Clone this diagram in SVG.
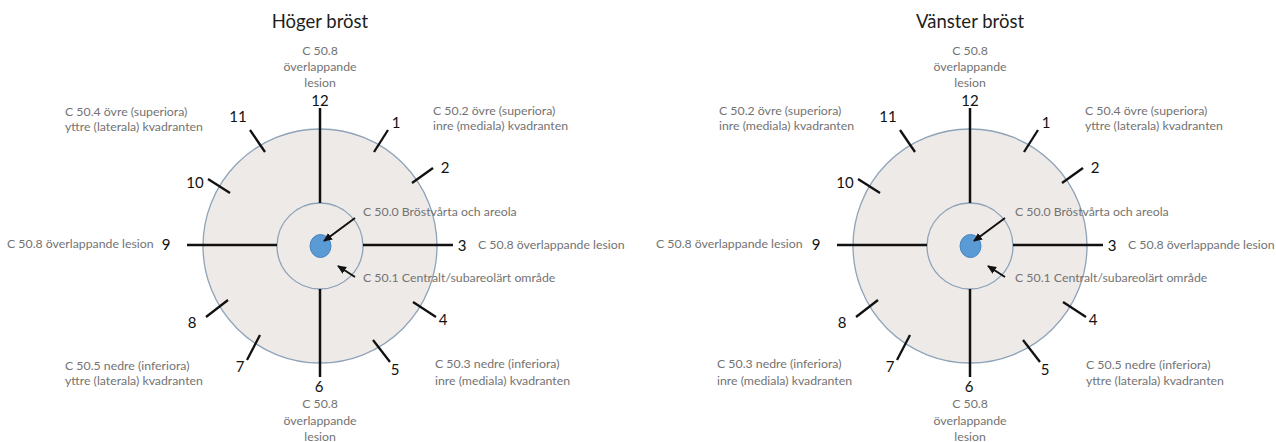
<svg xmlns="http://www.w3.org/2000/svg" width="1276" height="442" viewBox="0 0 1276 442">
<style>
.bg{fill:#ffffff}
.outer{fill:#eeeae7;stroke:#8fa3b8;stroke-width:1.3}
.inner{fill:#eeeae7;stroke:#8fa3b8;stroke-width:1.3}
.nip{fill:#5b9bd5;stroke:#4a86c0;stroke-width:1}
.spoke{stroke:#111111;stroke-width:2.5;fill:none;stroke-linecap:butt}
.tick{stroke:#111111;stroke-width:2.3;fill:none}
.arr{stroke:#111111;stroke-width:2;fill:none;marker-end:url(#ah)}
.title{font-family:Lato,"Liberation Sans",sans-serif;font-size:18.5px;fill:#1e1e1e;text-anchor:middle}
.num{font-family:Lato,"Liberation Sans",sans-serif;font-size:15px;fill:#111111;text-anchor:middle}
.lbl{font-family:Lato,"Liberation Sans",sans-serif;font-size:12.3px;fill:#737373}
.mid{text-anchor:middle}
</style>
<defs>
<marker id="ah" markerUnits="userSpaceOnUse" markerWidth="10" markerHeight="10" refX="8" refY="4" orient="auto">
<path d="M0,0 L9,4 L0,8 z" fill="#111111"/>
</marker>
</defs>
<rect class="bg" x="0" y="0" width="1276" height="442"/>

<!-- ===== Höger bröst ===== -->
<g id="hoger">
  <g id="h-title"><text class="title" x="320" y="28">Höger bröst</text></g>
  <g id="h-outer"><circle class="outer" cx="320" cy="246" r="117"/></g>
  <g id="h-inner"><circle class="inner" cx="320" cy="246" r="43"/></g>
  <g id="h-nipple"><ellipse class="nip" cx="320.5" cy="246" rx="10.5" ry="11.5"/></g>
  <g id="h-connectors">
    <line class="spoke" x1="320" y1="108" x2="320" y2="203"/>
    <line class="spoke" x1="320" y1="289" x2="320" y2="377"/>
    <line class="spoke" x1="187" y1="245" x2="277" y2="245"/>
    <line class="spoke" x1="363" y1="245" x2="453" y2="245"/>
    <line class="tick" x1="374" y1="152" x2="388" y2="130"/>
    <line class="tick" x1="412" y1="183" x2="433" y2="168"/>
    <line class="tick" x1="413" y1="302" x2="436" y2="317"/>
    <line class="tick" x1="373" y1="340" x2="390" y2="362"/>
    <line class="tick" x1="260" y1="335" x2="247" y2="360"/>
    <line class="tick" x1="228" y1="300" x2="206" y2="317"/>
    <line class="tick" x1="230" y1="193" x2="208" y2="179"/>
    <line class="tick" x1="265" y1="152" x2="250" y2="130"/>
    <line class="arr" x1="355" y1="218" x2="324" y2="241"/>
    <line class="arr" x1="355" y1="277" x2="338" y2="266"/>
  </g>
  <g id="h-numbers">
    <text class="num" x="320" y="106">12</text>
    <text class="num" x="396" y="128">1</text>
    <text class="num" x="445" y="173">2</text>
    <text class="num" x="462" y="251">3</text>
    <text class="num" x="443" y="325">4</text>
    <text class="num" x="395" y="375">5</text>
    <text class="num" x="319" y="392">6</text>
    <text class="num" x="240" y="372">7</text>
    <text class="num" x="192" y="328">8</text>
    <text class="num" x="166" y="250">9</text>
    <text class="num" x="195" y="188">10</text>
    <text class="num" x="238" y="122">11</text>
  </g>
  <g id="h-lbl-top"><text class="lbl mid" x="320" y="54.5">C 50.8</text><text class="lbl mid" x="320" y="70.5">överlappande</text><text class="lbl mid" x="320" y="87">lesion</text></g>
  <g id="h-lbl-bottom"><text class="lbl mid" x="320" y="407.5">C 50.8</text><text class="lbl mid" x="320" y="425">överlappande</text><text class="lbl mid" x="320" y="441">lesion</text></g>
  <g id="h-lbl-ur"><text class="lbl" x="433" y="114.5">C 50.2 övre (superiora)</text><text class="lbl" x="433" y="129.5">inre (mediala) kvadranten</text></g>
  <g id="h-lbl-ul"><text class="lbl" x="65" y="116">C 50.4 övre (superiora)</text><text class="lbl" x="65" y="131">yttre (laterala) kvadranten</text></g>
  <g id="h-lbl-9"><text class="lbl" x="7" y="247.5">C 50.8 överlappande lesion</text></g>
  <g id="h-lbl-3"><text class="lbl" x="478" y="249">C 50.8 överlappande lesion</text></g>
  <g id="h-lbl-c500"><text class="lbl" x="363" y="215.5">C 50.0 Bröstvårta och areola</text></g>
  <g id="h-lbl-c501"><text class="lbl" x="363" y="282">C 50.1 Centralt/subareolärt område</text></g>
  <g id="h-lbl-lr"><text class="lbl" x="435" y="368">C 50.3 nedre (inferiora)</text><text class="lbl" x="435" y="385">inre (mediala) kvadranten</text></g>
  <g id="h-lbl-ll"><text class="lbl" x="65" y="370">C 50.5 nedre (inferiora)</text><text class="lbl" x="65" y="385">yttre (laterala) kvadranten</text></g>
</g>

<!-- ===== Vänster bröst ===== -->
<g id="vanster">
  <g id="v-title"><text class="title" x="970" y="28">Vänster bröst</text></g>
  <g id="v-outer"><circle class="outer" cx="970" cy="246" r="117"/></g>
  <g id="v-inner"><circle class="inner" cx="970" cy="246" r="43"/></g>
  <g id="v-nipple"><ellipse class="nip" cx="970.5" cy="246" rx="10.5" ry="11.5"/></g>
  <g id="v-connectors" transform="translate(650,0)">
    <line class="spoke" x1="320" y1="108" x2="320" y2="203"/>
    <line class="spoke" x1="320" y1="289" x2="320" y2="377"/>
    <line class="spoke" x1="187" y1="245" x2="277" y2="245"/>
    <line class="spoke" x1="363" y1="245" x2="453" y2="245"/>
    <line class="tick" x1="374" y1="152" x2="388" y2="130"/>
    <line class="tick" x1="412" y1="183" x2="433" y2="168"/>
    <line class="tick" x1="413" y1="302" x2="436" y2="317"/>
    <line class="tick" x1="373" y1="340" x2="390" y2="362"/>
    <line class="tick" x1="260" y1="335" x2="247" y2="360"/>
    <line class="tick" x1="228" y1="300" x2="206" y2="317"/>
    <line class="tick" x1="230" y1="193" x2="208" y2="179"/>
    <line class="tick" x1="265" y1="152" x2="250" y2="130"/>
    <line class="arr" x1="355" y1="218" x2="324" y2="241"/>
    <line class="arr" x1="355" y1="277" x2="338" y2="266"/>
  </g>
  <g id="v-numbers" transform="translate(650,0)">
    <text class="num" x="320" y="106">12</text>
    <text class="num" x="396" y="128">1</text>
    <text class="num" x="445" y="173">2</text>
    <text class="num" x="462" y="251">3</text>
    <text class="num" x="443" y="325">4</text>
    <text class="num" x="395" y="375">5</text>
    <text class="num" x="319" y="392">6</text>
    <text class="num" x="240" y="372">7</text>
    <text class="num" x="192" y="328">8</text>
    <text class="num" x="166" y="250">9</text>
    <text class="num" x="195" y="188">10</text>
    <text class="num" x="238" y="122">11</text>
  </g>
  <g id="v-lbl-top"><text class="lbl mid" x="970" y="54.5">C 50.8</text><text class="lbl mid" x="970" y="70.5">överlappande</text><text class="lbl mid" x="970" y="87">lesion</text></g>
  <g id="v-lbl-bottom"><text class="lbl mid" x="970" y="407.5">C 50.8</text><text class="lbl mid" x="970" y="425">överlappande</text><text class="lbl mid" x="970" y="441">lesion</text></g>
  <g id="v-lbl-ul"><text class="lbl" x="719" y="114.5">C 50.2 övre (superiora)</text><text class="lbl" x="719" y="129.5">inre (mediala) kvadranten</text></g>
  <g id="v-lbl-ur"><text class="lbl" x="1085" y="114.5">C 50.4 övre (superiora)</text><text class="lbl" x="1085" y="129.5">yttre (laterala) kvadranten</text></g>
  <g id="v-lbl-9"><text class="lbl" x="656" y="247.5">C 50.8 överlappande lesion</text></g>
  <g id="v-lbl-3"><text class="lbl" x="1128" y="249">C 50.8 överlappande lesion</text></g>
  <g id="v-lbl-c500"><text class="lbl" x="1015" y="215.5">C 50.0 Bröstvårta och areola</text></g>
  <g id="v-lbl-c501"><text class="lbl" x="1015" y="282">C 50.1 Centralt/subareolärt område</text></g>
  <g id="v-lbl-ll"><text class="lbl" x="717" y="368">C 50.3 nedre (inferiora)</text><text class="lbl" x="717" y="385">inre (mediala) kvadranten</text></g>
  <g id="v-lbl-lr"><text class="lbl" x="1086" y="369">C 50.5 nedre (inferiora)</text><text class="lbl" x="1086" y="385">yttre (laterala) kvadranten</text></g>
</g>
</svg>
